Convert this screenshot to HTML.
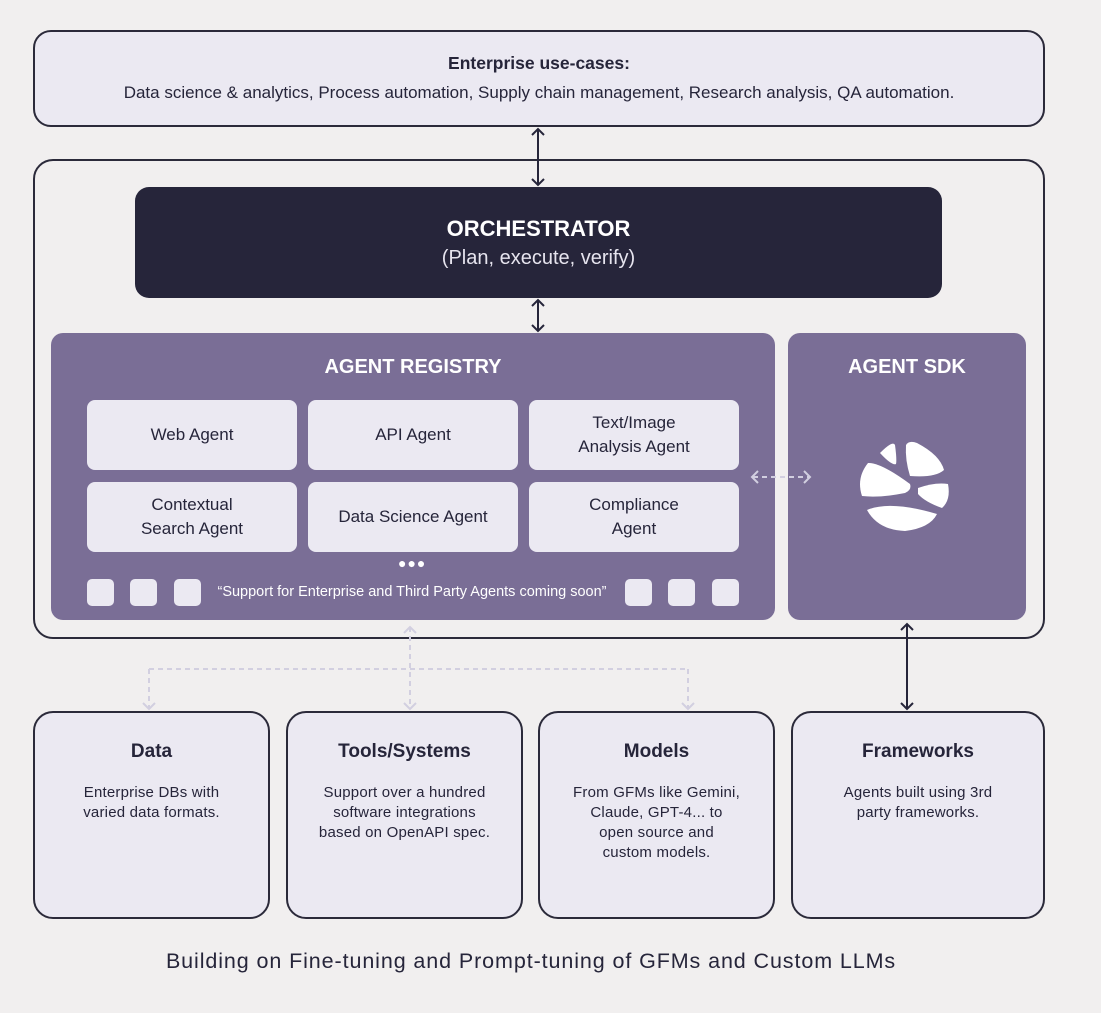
<!DOCTYPE html>
<html><head><style>
body{margin:0;width:1101px;height:1013px;background:#f1efef;font-family:"Liberation Sans",sans-serif;position:relative;overflow:hidden;color:#26253a}
.a{position:absolute;box-sizing:border-box}
.lt{background:#ebe9f2;border:2px solid #2b2a3a}
.card{position:absolute;background:#ebe9f2;border-radius:8px;display:flex;align-items:center;justify-content:center;text-align:center;font-size:17px;line-height:24px;color:#26253a}
.sq{position:absolute;width:27px;height:27px;background:#ebe9f2;border-radius:5px;top:579px}
.bb{top:711px;height:208px;border-radius:20px;text-align:center}
.bb h3{margin:28px 0 0;font-size:19px}
.bb p{margin:20px 0 0;font-size:15px;line-height:20px;letter-spacing:0.2px}
</style></head><body>
<div class="a lt" style="left:33px;top:30px;width:1012px;height:97px;border-radius:18px;text-align:center">
<div style="font-weight:bold;font-size:17.5px;margin-top:21px">Enterprise use-cases:</div>
<div style="font-size:17px;margin-top:9px">Data science &amp; analytics, Process automation, Supply chain management, Research analysis, QA automation.</div></div>
<div class="a" style="left:33px;top:159px;width:1012px;height:480px;border:2px solid #2b2a3a;border-radius:20px"></div>
<div class="a" style="left:135px;top:187px;width:807px;height:111px;background:#26253a;border-radius:14px;color:#fff;text-align:center">
<div style="font-weight:bold;font-size:22px;margin-top:29px">ORCHESTRATOR</div>
<div style="font-size:20px;margin-top:5px;color:#e6e4ee">(Plan, execute, verify)</div></div>
<div class="a" style="left:51px;top:333px;width:724px;height:287px;background:#7a6e96;border-radius:12px;color:#fff;text-align:center">
<div style="font-weight:bold;font-size:20px;margin-top:23px">AGENT REGISTRY</div></div>
<div class="a" style="left:788px;top:333px;width:238px;height:287px;background:#7a6e96;border-radius:12px;color:#fff;text-align:center">
<div style="font-weight:bold;font-size:20px;margin-top:23px">AGENT SDK</div></div>
<div class="card" style="left:87px;top:400px;width:210px;height:70px">Web Agent</div>
<div class="card" style="left:308px;top:400px;width:210px;height:70px">API Agent</div>
<div class="card" style="left:529px;top:400px;width:210px;height:70px">Text/Image<br>Analysis Agent</div>
<div class="card" style="left:87px;top:482px;width:210px;height:70px">Contextual<br>Search Agent</div>
<div class="card" style="left:308px;top:482px;width:210px;height:70px">Data Science Agent</div>
<div class="card" style="left:529px;top:482px;width:210px;height:70px">Compliance<br>Agent</div>
<div class="a" style="left:398px;top:555px;color:#fff;font-size:14px;letter-spacing:1px">●●●</div>
<div class="sq" style="left:87px"></div><div class="sq" style="left:130px"></div><div class="sq" style="left:174px"></div>
<div class="sq" style="left:625px"></div><div class="sq" style="left:668px"></div><div class="sq" style="left:712px"></div>
<div class="a" style="left:200px;top:584px;width:424px;text-align:center;color:#fff;font-size:14.5px">“Support for Enterprise and Third Party Agents coming soon”</div>
<div class="a lt bb" style="left:33px;width:237px"><h3>Data</h3><p>Enterprise DBs with<br>varied data formats.</p></div>
<div class="a lt bb" style="left:286px;width:237px"><h3>Tools/Systems</h3><p>Support over a hundred<br>software integrations<br>based on OpenAPI spec.</p></div>
<div class="a lt bb" style="left:538px;width:237px"><h3>Models</h3><p>From GFMs like Gemini,<br>Claude, GPT-4... to<br>open source and<br>custom models.</p></div>
<div class="a lt bb" style="left:791px;width:254px"><h3>Frameworks</h3><p>Agents built using 3rd<br>party frameworks.</p></div>
<div class="a" style="left:0;top:949px;width:1062px;text-align:center;font-size:21.5px;letter-spacing:0.9px">Building on Fine-tuning and Prompt-tuning of GFMs and Custom LLMs</div>
<svg class="a" style="left:0;top:0" width="1101" height="1013">
<g stroke="#26253a" stroke-width="2" fill="none">
<line x1="538" y1="129" x2="538" y2="185"/><polyline points="532,135 538,129 544,135"/><polyline points="532,179 538,185 544,179"/>
<line x1="538" y1="300" x2="538" y2="331"/><polyline points="532,306 538,300 544,306"/><polyline points="532,325 538,331 544,325"/>
<line x1="907" y1="624" x2="907" y2="709"/><polyline points="901,630 907,624 913,630"/><polyline points="901,703 907,709 913,703"/>
</g>
<g stroke="#d2cfe0" stroke-width="2" fill="none" stroke-dasharray="5,4">
<line x1="410" y1="627" x2="410" y2="709"/><line x1="149" y1="669" x2="688" y2="669"/>
<line x1="149" y1="669" x2="149" y2="709"/><line x1="688" y1="669" x2="688" y2="709"/>
<line x1="753" y1="477" x2="810" y2="477"/>
</g>
<g stroke="#d2cfe0" stroke-width="2" fill="none">
<polyline points="404,633 410,627 416,633"/><polyline points="143,703 149,709 155,703"/><polyline points="404,703 410,709 416,703"/><polyline points="682,703 688,709 694,703"/>
<polyline points="758,471 752,477 758,483"/><polyline points="804,471 810,477 804,483"/>
</g>
<g fill="#fff">
<path d="M880,453 Q893,440 895,445 Q897,460 896,464 Q892,466 880,453Z"/>
<path d="M906,445 Q909,440 917,443 Q940,455 944,470 Q935,478 910,476 Q905,460 906,445Z"/>
<path d="M868,463 Q880,462 910,484 Q912,490 905,493 Q880,498 862,496 Q856,478 868,463Z"/>
<path d="M918,488 Q935,482 948,484 Q951,500 942,508 Q925,502 918,494Z"/>
<path d="M867,510 Q890,500 937,514 Q930,528 905,531 Q878,530 867,510Z"/>
</g>
</svg>
</body></html>
